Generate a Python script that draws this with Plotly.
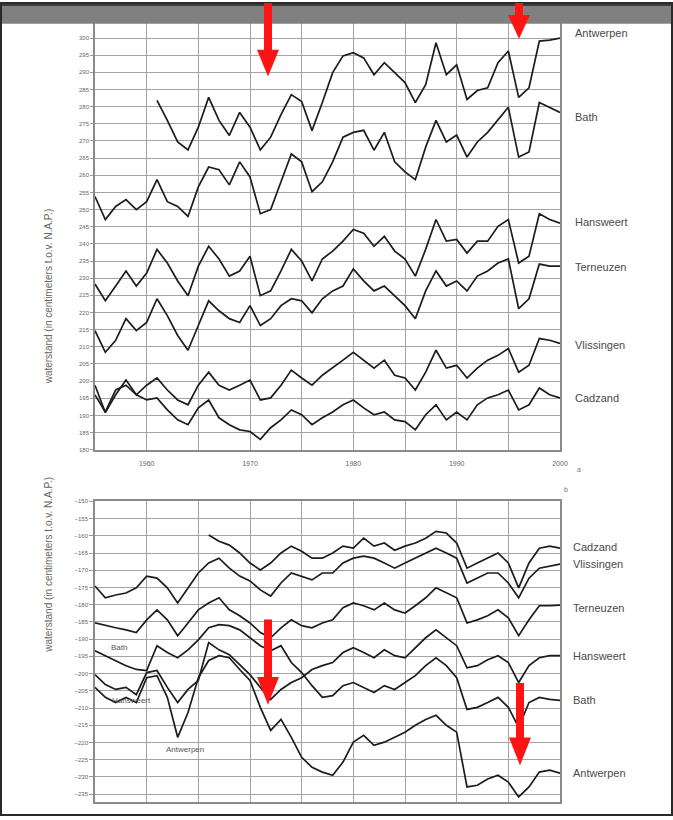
import plotly.graph_objects as go

W, H = 673, 820
ML, MR = 95, 113
PW = W - ML - MR

YEARS = list(range(1955, 2001))
STATIONS_TOP = ["Antwerpen", "Bath", "Hansweert", "Terneuzen", "Vlissingen", "Cadzand"]
STATIONS_BOT = ["Cadzand", "Vlissingen", "Terneuzen", "Hansweert", "Bath", "Antwerpen"]

# ---- panel a: mean high water (cm NAP) ----
HW_ANTWERPEN = [None] * 6 + [
    281.8, 276.0, 269.7, 267.4, 274.0, 282.7, 276.0, 271.6, 278.3, 274.0,
    267.4, 271.1, 277.7, 283.5, 281.5, 273.0, 281.2, 289.9, 294.8, 295.7,
    294.2, 289.3, 292.8, 289.9, 287.0, 281.2, 286.4, 298.6, 289.3, 292.2,
    282.1, 284.7, 285.5, 292.8, 296.2, 282.7, 285.5, 299.1, 299.4, 300.0]
HW_BATH = [
    253.8, 247.1, 250.9, 252.9, 250.0, 252.3, 258.7, 252.3, 250.9, 248.0,
    256.6, 262.4, 261.6, 257.2, 263.9, 259.5, 248.8, 250.0, 258.1, 266.2,
    263.9, 255.2, 258.1, 263.9, 271.1, 272.5, 273.1, 267.3, 272.5, 263.9,
    261.0, 258.7, 268.2, 276.0, 269.7, 271.7, 265.3, 269.7, 272.5, 276.0,
    279.8, 265.3, 266.8, 281.2, 279.8, 278.3]
HW_HANSWEERT = [
    228.3, 223.4, 227.7, 232.1, 227.7, 231.5, 238.4, 234.4, 229.2, 224.9,
    233.5, 239.3, 235.6, 230.6, 232.1, 236.4, 224.9, 226.3, 232.1, 238.4,
    235.0, 229.2, 235.6, 237.9, 240.8, 244.2, 243.1, 239.3, 242.2, 237.9,
    235.6, 230.6, 238.4, 247.1, 240.8, 241.3, 237.3, 240.8, 240.8, 245.1,
    247.1, 234.4, 236.4, 248.8, 247.1, 246.0]
HW_TERNEUZEN = [
    214.7, 208.4, 211.9, 218.2, 214.7, 217.1, 224.0, 219.1, 213.3, 209.0,
    216.2, 223.4, 220.5, 218.2, 217.1, 222.0, 216.2, 218.2, 222.0, 224.0,
    223.4, 219.9, 224.0, 226.3, 227.7, 232.7, 229.2, 226.3, 227.7, 224.9,
    222.0, 218.2, 226.3, 232.1, 227.7, 229.2, 226.3, 230.6, 232.1, 234.4,
    235.6, 221.1, 224.0, 234.1, 233.5, 233.5]
HW_VLISSINGEN = [
    198.8, 190.8, 196.0, 200.3, 196.0, 198.8, 200.9, 197.4, 194.5, 193.1,
    198.8, 202.6, 198.8, 197.4, 198.8, 200.3, 194.5, 195.1, 198.8, 203.2,
    200.9, 198.8, 201.7, 203.8, 206.1, 208.4, 206.1, 203.8, 206.1, 201.7,
    200.9, 197.4, 202.6, 209.0, 203.8, 204.6, 200.9, 203.8, 206.1, 207.5,
    209.5, 202.6, 204.6, 212.4, 211.9, 211.0]
HW_CADZAND = [
    196.0, 191.0, 197.4, 198.8, 196.0, 194.5, 195.1, 191.6, 188.7, 187.3,
    192.2, 194.5, 189.3, 187.3, 185.8, 185.3, 183.0, 186.4, 188.7, 191.6,
    190.2, 187.3, 189.3, 191.0, 193.1, 194.5, 192.2, 190.2, 191.0, 188.7,
    188.2, 185.8, 190.2, 193.1, 188.7, 191.0, 188.7, 193.1, 195.1, 196.0,
    197.4, 191.6, 193.1, 198.0, 196.0, 195.1]

# ---- panel b: mean low water (cm NAP) ----
LW_CADZAND = [None] * 11 + [
    -159.8, -161.6, -162.7, -165.0, -167.9, -169.9, -167.9, -165.0, -163.0,
    -164.5, -166.5, -166.5, -165.0, -163.0, -163.6, -160.7, -163.0, -162.1,
    -164.2, -163.0, -162.1, -160.7, -158.7, -159.2, -162.1, -169.4, -167.9,
    -166.5, -165.0, -167.9, -175.1, -167.9, -163.6, -163.0, -163.6]
LW_VLISSINGEN = [
    -174.6, -178.0, -177.2, -176.6, -175.1, -171.7, -172.3, -175.1, -179.5, -175.1,
    -170.8, -167.9, -166.5, -169.4, -171.7, -173.1, -175.7, -177.5, -173.7, -170.8,
    -171.7, -172.8, -170.8, -170.8, -167.9, -166.5, -165.9, -166.5, -167.9, -169.4,
    -167.9, -166.5, -165.0, -163.6, -165.0, -166.5, -173.7, -172.3, -170.8, -170.8,
    -173.7, -178.0, -172.3, -169.4, -168.8, -168.2]
LW_TERNEUZEN = [
    -185.3, -186.1, -186.7, -187.3, -188.1, -184.4, -181.5, -184.4, -189.0, -185.3,
    -181.5, -179.5, -178.0, -181.5, -183.2, -185.3, -188.1, -189.6, -186.7, -184.4,
    -186.1, -186.7, -185.3, -184.4, -180.9, -179.5, -180.3, -181.5, -179.5, -181.5,
    -182.4, -180.3, -178.0, -175.1, -176.6, -178.0, -185.3, -184.4, -183.2, -181.5,
    -183.8, -189.0, -184.4, -180.3, -180.3, -180.1]
LW_HANSWEERT = [
    -200.3, -203.2, -204.6, -204.0, -206.1, -199.7, -199.1, -204.0, -208.4, -204.6,
    -202.0, -191.0, -193.1, -194.5, -197.4, -200.3, -204.0, -207.5, -204.6, -202.6,
    -201.2, -198.8, -197.7, -196.8, -193.9, -192.5, -193.9, -195.4, -193.1, -194.8,
    -195.4, -192.5, -189.6, -187.3, -189.6, -191.9, -198.3, -197.7, -196.0, -194.8,
    -196.8, -202.6, -197.7, -195.4, -194.8, -194.8]
LW_BATH = [
    -193.4, -194.8, -196.2, -197.7, -198.8, -199.1, -191.9, -193.9, -195.4, -193.1,
    -190.2, -186.7, -185.8, -186.1, -187.3, -189.6, -191.9, -193.4, -191.9, -196.8,
    -199.7, -203.5, -206.9, -206.4, -203.5, -202.6, -204.0, -205.5, -203.5, -204.6,
    -202.6, -200.6, -197.7, -195.4, -197.7, -201.2, -210.4, -209.8, -208.4, -206.9,
    -209.8, -215.6, -208.4, -206.9, -207.5, -207.8]
LW_ANTWERPEN = [
    -204.0, -206.9, -208.4, -206.9, -208.4, -201.2, -200.6, -206.9, -218.5, -211.3,
    -201.2, -196.2, -194.8, -195.4, -198.8, -202.0, -209.8, -216.5, -213.3, -218.5,
    -224.3, -227.2, -228.6, -229.5, -225.7, -219.9, -217.9, -220.8, -219.9, -218.5,
    -217.0, -215.0, -213.3, -212.1, -215.0, -217.0, -232.9, -232.4, -230.6, -229.5,
    -231.5, -235.8, -232.9, -228.6, -228.0, -228.9]

HW = {"Antwerpen": HW_ANTWERPEN, "Bath": HW_BATH, "Hansweert": HW_HANSWEERT,
      "Terneuzen": HW_TERNEUZEN, "Vlissingen": HW_VLISSINGEN, "Cadzand": HW_CADZAND}
LW = {"Cadzand": LW_CADZAND, "Vlissingen": LW_VLISSINGEN, "Terneuzen": LW_TERNEUZEN,
      "Hansweert": LW_HANSWEERT, "Bath": LW_BATH, "Antwerpen": LW_ANTWERPEN}

# end-of-line label heights (cm NAP)
LABEL_Y_TOP = [301.4, 276.9, 246.5, 233.2, 210.4, 195.1]
LABEL_Y_BOT = [-163.3, -168.2, -180.9, -194.8, -207.8, -228.9]

X_TICKS = list(range(1955, 2001, 5))
X_TICKTEXT = [str(y) if y % 10 == 0 and y > 1955 else "" for y in X_TICKS]
YTOP_TICKS = list(range(180, 306, 5))
YBOT_TICKS = list(range(-235, -149, 5))

YTOP_RANGE = [180, 305]
YBOT_RANGE = [-237.3, -150]

LINE_COL = "#1c1c1c"
GRID_COL = "#a3a3a3"
TXT_COL = "#555555"
FONT = "Liberation Sans"
AXIS_TITLE = "waterstand (in centimeters t.o.v. N.A.P.)"

TOP_DOM_PX = (18, 450)    # pixel rows of panel a
BOT_DOM_PX = (502, 805)   # pixel rows of panel b


def px(x):
    return (x - ML) / PW


def py(y):
    return 1 - y / H


def val_to_paper(v, rng, dom_px):
    top, bot = dom_px
    frac = (v - rng[0]) / (rng[1] - rng[0])
    return py(bot) + frac * (py(top) - py(bot))


fig = go.Figure()
for name in STATIONS_TOP:
    fig.add_trace(go.Scatter(x=YEARS, y=HW[name], mode="lines", name=name,
                             line=dict(color=LINE_COL, width=1.7),
                             xaxis="x", yaxis="y", showlegend=False))
for name in STATIONS_BOT:
    fig.add_trace(go.Scatter(x=YEARS, y=LW[name], mode="lines", name=name,
                             line=dict(color=LINE_COL, width=1.7),
                             xaxis="x2", yaxis="y2", showlegend=False))

axis_common = dict(showgrid=True, gridcolor=GRID_COL, gridwidth=1.4,
                   showline=True, linecolor="#8a8a8a", linewidth=1.6, mirror=True,
                   zeroline=False)

fig.update_layout(
    width=W, height=H,
    margin=dict(l=ML, r=MR, t=0, b=0),
    paper_bgcolor="white", plot_bgcolor="white",
    font=dict(family=FONT, color=TXT_COL),
    xaxis=dict(domain=[0, 1], anchor="y", range=[1955, 2000], tickmode="array",
               tickvals=X_TICKS, ticktext=X_TICKTEXT, ticks="", ticklabelstandoff=6,
               tickfont=dict(size=7, color="#666"), **axis_common),
    yaxis=dict(domain=[py(TOP_DOM_PX[1]), py(TOP_DOM_PX[0])], anchor="x",
               range=YTOP_RANGE, tickmode="array", tickvals=YTOP_TICKS,
               ticks="outside", ticklen=3, tickcolor="#999",
               tickfont=dict(size=6, color="#666"), **axis_common),
    xaxis2=dict(domain=[0, 1], anchor="y2", range=[1955, 2000], tickmode="array",
                tickvals=X_TICKS, showticklabels=False, ticks="", **axis_common),
    yaxis2=dict(domain=[py(BOT_DOM_PX[1]), py(BOT_DOM_PX[0])], anchor="x2",
                range=YBOT_RANGE, tickmode="array", tickvals=YBOT_TICKS,
                ticks="outside", ticklen=4, tickcolor="#999",
                tickfont=dict(size=6, color="#666"), **axis_common),
)

ann = []
for name, yv in zip(STATIONS_TOP, LABEL_Y_TOP):
    ann.append(dict(x=px(573), y=val_to_paper(yv, YTOP_RANGE, TOP_DOM_PX),
                    xref="paper", yref="paper", text=name, showarrow=False,
                    xanchor="left", yanchor="middle", font=dict(size=11, color="#4a4a4a")))
for name, yv in zip(STATIONS_BOT, LABEL_Y_BOT):
    ann.append(dict(x=px(571), y=val_to_paper(yv, YBOT_RANGE, BOT_DOM_PX),
                    xref="paper", yref="paper", text=name, showarrow=False,
                    xanchor="left", yanchor="middle", font=dict(size=11, color="#4a4a4a")))
# in-plot labels of panel b
for txt, xv, yv in [("Bath", 1957.3, -192.5), ("Hansweert", 1958.5, -207.8),
                    ("Antwerpen", 1963.7, -222.0)]:
    ann.append(dict(x=xv, y=yv, xref="x2", yref="y2", text=txt, showarrow=False,
                    font=dict(size=8, color="#555")))
# axis titles
for yc in (296, 657):
    ann.append(dict(x=px(41), y=py(yc), xref="paper", yref="paper", text=AXIS_TITLE,
                    textangle=-90, showarrow=False, font=dict(size=10, color="#666")))
ann.append(dict(x=px(575), y=py(470), xref="paper", yref="paper", text="a",
                xanchor="left", showarrow=False, font=dict(size=7, color="#777")))
ann.append(dict(x=px(570), y=py(490), xref="paper", yref="paper", text="b",
                showarrow=False, font=dict(size=7, color="#777")))
fig.update_layout(annotations=ann)

shapes = []
# grey header bar
shapes.append(dict(type="rect", xref="paper", yref="paper", x0=px(0), x1=px(W),
                   y0=py(21), y1=py(0), fillcolor="#808080", line=dict(width=0),
                   layer="above"))
shapes.append(dict(type="rect", xref="paper", yref="paper", x0=px(0), x1=px(W),
                   y0=py(3), y1=py(0), fillcolor="#3c3c3c", line=dict(width=0),
                   layer="above"))
# outer frame
shapes.append(dict(type="rect", xref="paper", yref="paper", x0=px(1), x1=px(W - 1),
                   y0=py(H - 2), y1=py(0), line=dict(color="#2a2a2a", width=2),
                   layer="above"))


def red_arrow(xc, y_top, y_neck, y_tip, shaft_hw=4, head_hw=11):
    p = (f"M {px(xc - shaft_hw)} {py(y_top)} L {px(xc + shaft_hw)} {py(y_top)} "
         f"L {px(xc + shaft_hw)} {py(y_neck)} L {px(xc + head_hw)} {py(y_neck)} "
         f"L {px(xc)} {py(y_tip)} L {px(xc - head_hw)} {py(y_neck)} "
         f"L {px(xc - shaft_hw)} {py(y_neck)} Z")
    return dict(type="path", xref="paper", yref="paper", path=p,
                fillcolor="#ff1414", line=dict(width=0), layer="above")


for spec in [(268, 0, 47, 74), (519, 0, 12, 36), (268, 621, 679, 707), (520, 685, 740, 768)]:
    shapes.append(red_arrow(*spec))
fig.update_layout(shapes=shapes)

fig.write_html("out.html", config={"displayModeBar": False},
               post_script="document.body.style.margin='0';"
                           "document.body.style.overflow='hidden';")
